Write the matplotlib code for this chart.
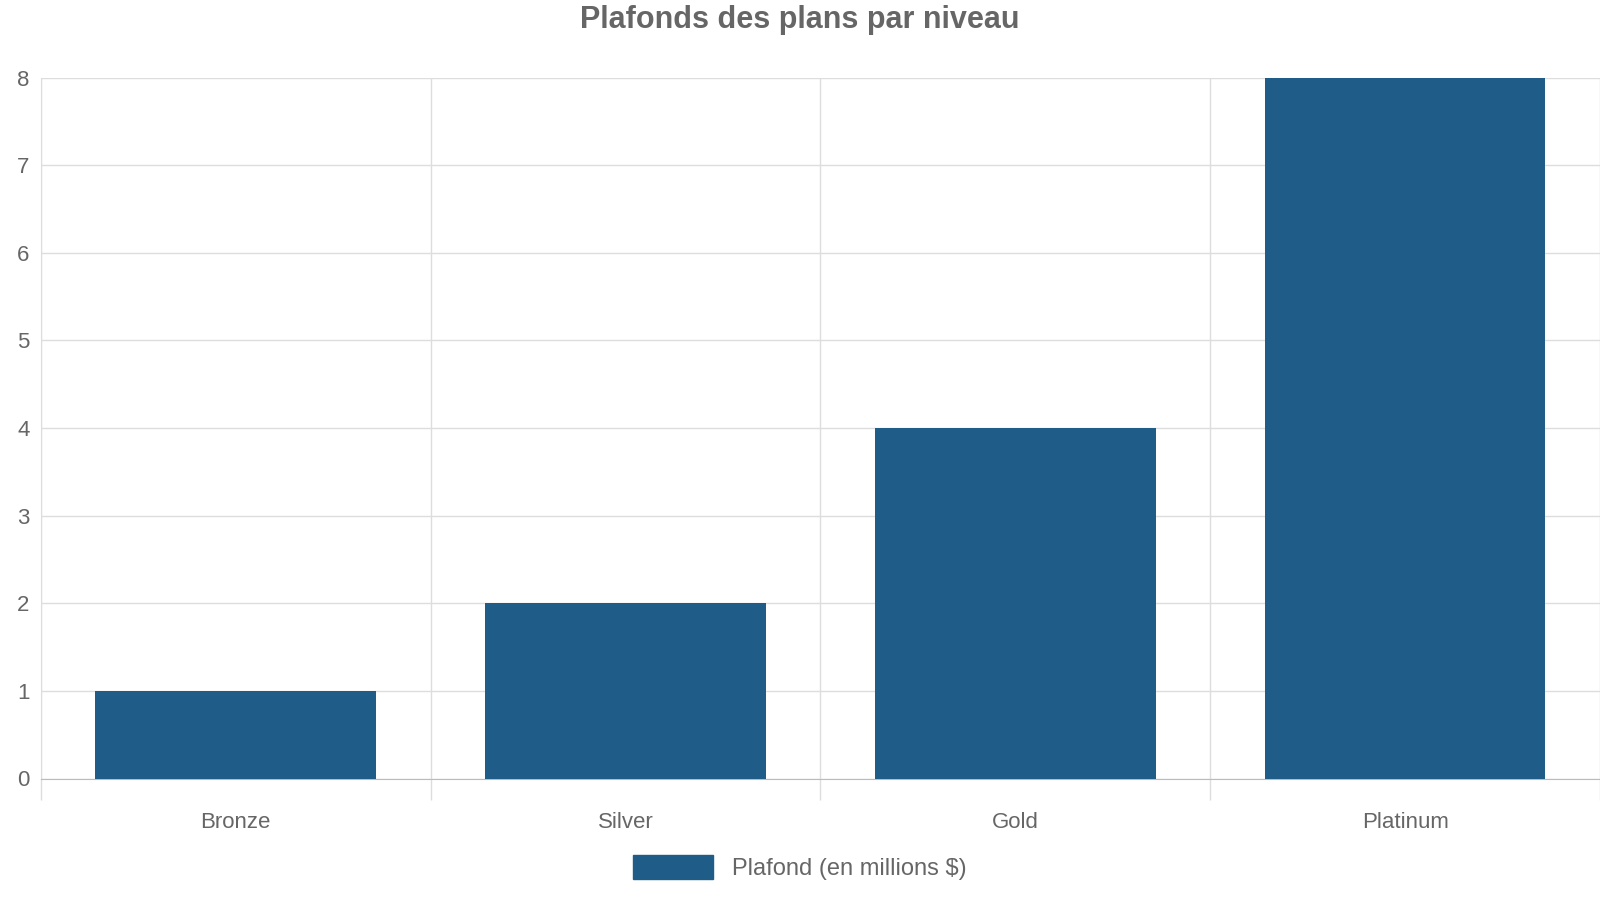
import matplotlib
matplotlib.use("Agg")
import matplotlib.pyplot as plt
from matplotlib.patches import Patch

categories = ["Bronze", "Silver", "Gold", "Platinum"]
values = [1, 2, 4, 8]
series_name = "Plafond (en millions $)"
title = "Plafonds des plans par niveau"

plt.rcParams['font.family'] = ['Liberation Sans', 'DejaVu Sans']
txt = "#666666"
bar_c = "#1f5c87"
grid_c = "#dddddd"

fig = plt.figure(figsize=(16, 9), dpi=100)
ax = fig.add_axes([0.0255, 0.135, 0.9745, 0.7788])
x = list(range(len(categories)))
ax.bar(x, values, width=0.72, color=bar_c, zorder=3)
ax.set_xlim(-0.5, len(categories) - 0.5)
ax.set_ylim(0, 8)
ax.set_yticks(range(0, 9))
ax.set_xticks(x)
ax.set_xticklabels(categories)
ax.set_xticks([i - 0.5 for i in range(len(categories) + 1)], minor=True)
ax.tick_params(axis='x', which='major', length=0, pad=24, labelsize=16, labelcolor=txt)
ax.tick_params(axis='x', which='minor', length=15, color=grid_c, width=1)
ax.tick_params(axis='y', length=0, pad=8, labelsize=16, labelcolor=txt)
ax.grid(True, axis='y', color=grid_c, lw=1, zorder=0)
ax.grid(True, axis='x', which='minor', color=grid_c, lw=1, zorder=0)
for s in ['top', 'right']:
    ax.spines[s].set_visible(False)
ax.spines['left'].set_color(grid_c)
ax.spines['bottom'].set_color("#bbbbbb")
fig.text(0.5, 0.978, title, ha='center', va='center', fontsize=22, fontweight='bold', color=txt)
fig.legend(handles=[Patch(color=bar_c, label=series_name)], loc='center',
           bbox_to_anchor=(0.5, 0.036), frameon=False, fontsize=17, labelcolor=txt,
           handlelength=3.4, handleheight=1.2)
fig.savefig("out.png")
